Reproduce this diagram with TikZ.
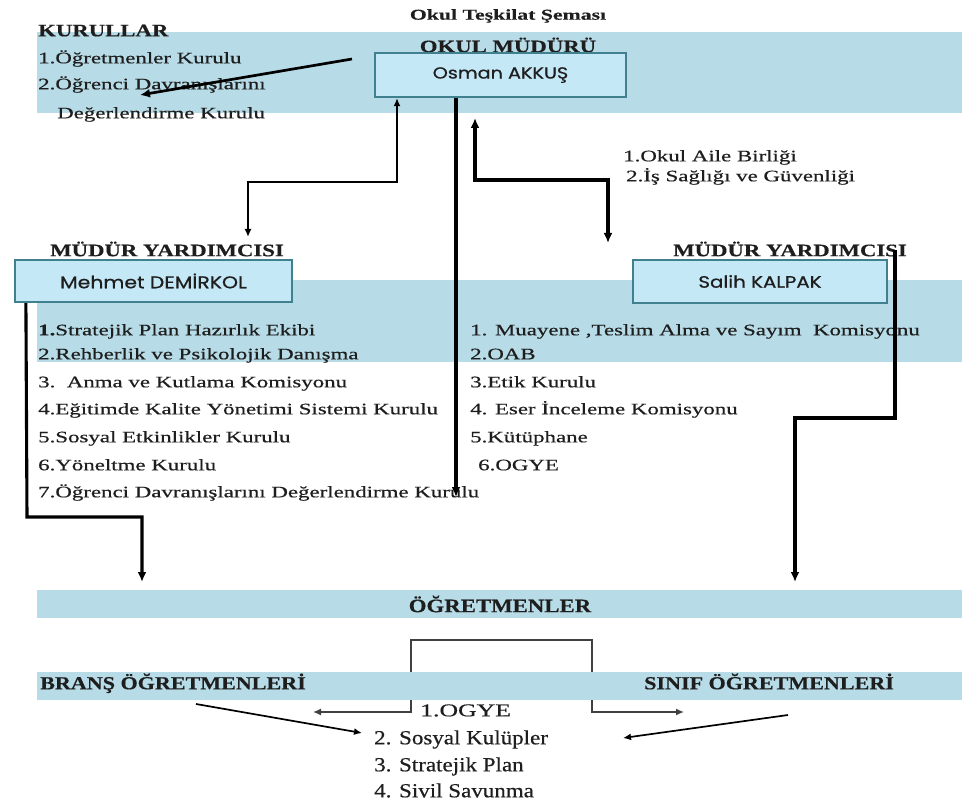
\documentclass[tikz,border=0pt]{standalone}
\usepackage{fontspec}
\setmainfont{Liberation Serif}
\newfontfamily\fTitle{Liberation Serif}[FakeStretch=1.45,FakeBold=0.3]
\newfontfamily\fHead{Liberation Serif}[FakeStretch=1.3,FakeBold=0.4]
\newfontfamily\fList{Liberation Serif}[FakeStretch=1.43,FakeBold=0.5]
\newfontfamily\fLow{Liberation Serif}[FakeStretch=1.2,FakeBold=0.4]
\newfontfamily\fBot{Liberation Serif}[FakeStretch=1.15,FakeBold=0.4]
\newfontfamily\fBox{Poppins}[FakeStretch=1.2,FakeBold=0.8]
\usetikzlibrary{arrows.meta}
\definecolor{bandc}{HTML}{B7DCE7}
\definecolor{boxfill}{HTML}{C5E8F7}
\definecolor{boxline}{HTML}{41808F}
\definecolor{ink}{HTML}{1E1E1E}
\tikzset{
  pbox/.style={draw=boxline, line width=2.2pt, fill=boxfill, inner sep=0pt, text=ink,
    font=\fBox\fontsize{16}{19}\selectfont},
  lst/.style={anchor=mid west, inner sep=0pt, text=ink, font=\fList\fontsize{16}{19}\selectfont},
  head/.style={inner sep=0pt, text=ink, font=\fHead\bfseries\fontsize{17.5}{20}\selectfont},
  low/.style={inner sep=0pt, text=ink, font=\fLow\bfseries\fontsize{18.4}{21}\selectfont},
  bot/.style={anchor=mid west, inner sep=0pt, text=ink, font=\fBot\fontsize{20}{23}\selectfont},
  thk/.style={line width=3.1pt, -{Latex[length=10pt,width=9pt]}},
  thkdbl/.style={line width=3.1pt, {Latex[length=10pt,width=9pt]}-{Latex[length=10pt,width=9pt]}},
  thn/.style={line width=1.7pt, -{Latex[length=8pt,width=7pt]}},
  thndbl/.style={line width=1.8pt, {Latex[length=8pt,width=7pt]}-{Latex[length=8pt,width=7pt]}},
  brk/.style={line width=1.5pt, draw=black!75, {Latex[length=8pt,width=7pt]}-{Latex[length=8pt,width=7pt]}},
}
\begin{document}
\begin{tikzpicture}[x=1pt,y=-1pt]
\useasboundingbox[fill=white] (0,0) rectangle (962,805);
% bands
\fill[bandc] (37,32) rectangle (962,113);
\fill[bandc] (37,280) rectangle (962,362);
\fill[bandc] (37,590) rectangle (962,618);
% bracket
\draw[brk] (313,712) -- (411,712) -- (411,640) -- (592,640) -- (592,712) -- (684,712);
\fill[bandc] (37,672) rectangle (962,700);

% title and headings
\node[inner sep=0pt, text=ink, font=\fTitle\bfseries\fontsize{15}{18}\selectfont] (title) at (508,16) {Okul Teşkilat Şeması};
\node[head, anchor=mid west] (kurullar) at (38,34) {KURULLAR};
\node[head] (okm) at (508,45) {OKUL MÜDÜRÜ};
\node[lst] (k1) at (38,61) {1.Öğretmenler Kurulu};
\node[lst] (k2) at (38,87) {2.Öğrenci Davranışlarını};
\node[lst] (k3) at (57,116) {Değerlendirme Kurulu};

\node[lst] (o1) at (623,159) {1.Okul Aile Birliği};
\node[lst] (o2) at (626,179) {2.İş Sağlığı ve Güvenliği};

\node[head] (my1) at (167,249) {MÜDÜR YARDIMCISI};
\node[head] (my2) at (790,249) {MÜDÜR YARDIMCISI};

% left list
\node[lst] (l1) at (38,333) {\textbf{1.}Stratejik Plan Hazırlık Ekibi};
\node[lst] (l2) at (38,357) {2.Rehberlik ve Psikolojik Danışma};
\node[lst] (l3) at (38,385) {3.\ \ Anma ve Kutlama Komisyonu};
\node[lst] (l4) at (38,412) {4.Eğitimde Kalite Yönetimi Sistemi Kurulu};
\node[lst] (l5) at (38,440) {5.Sosyal Etkinlikler Kurulu};
\node[lst] (l6) at (38,468) {6.Yöneltme Kurulu};
\node[lst] (l7) at (38,495) {7.Öğrenci Davranışlarını Değerlendirme Kurulu};
% right list
\node[lst] (r1) at (470,333) {1. Muayene ,Teslim Alma ve Sayım\ \ Komisyonu};
\node[lst] (r2) at (470,357) {2.OAB};
\node[lst] (r3) at (470,385) {3.Etik Kurulu};
\node[lst] (r4) at (470,412) {4. Eser İnceleme Komisyonu};
\node[lst] (r5) at (470,440) {5.Kütüphane};
\node[lst] (r6) at (478,468) {6.OGYE};

% bottom
\node[inner sep=0pt, text=ink, font=\fLow\bfseries\fontsize{19}{22}\selectfont] (ogr) at (500,604) {ÖĞRETMENLER};
\node[low, anchor=mid west] (brans) at (40,687) {BRANŞ ÖĞRETMENLERİ};
\node[low, anchor=mid west] (sinif) at (644,687) {SINIF ÖĞRETMENLERİ};
\node[lst, font=\fList\fontsize{18}{21}\selectfont] (b1) at (420,714) {1.OGYE};
\node[bot] (b2) at (374,742) {2. Sosyal Kulüpler};
\node[bot] (b3) at (374,769) {3. Stratejik Plan};
\node[bot] (b4) at (374,795) {4. Sivil Savunma};

% boxes
\node[pbox, minimum width=251pt, minimum height=44pt] (osman) at (500.5,75) {Osman AKKUŞ};
\node[pbox, minimum width=277pt, minimum height=42pt] (mehmet) at (153.5,281) {\fontsize{17}{20}\selectfont Mehmet DEMİRKOL};
\node[pbox, minimum width=254pt, minimum height=43pt] (salih) at (760,281.5) {\fontsize{16.5}{20}\selectfont Salih KALPAK};

% connectors
\coordinate (ka) at (352,59);
\coordinate (kb) at (140,95);
\draw[thk, line width=2.7pt] (ka) -- (kb);

\draw[thndbl] ([xshift=-103.5pt]osman.south) -- (397,182) -- (248,182) -- (248,237);
\draw[thk] ([xshift=-44.5pt]osman.south) -- (456,497);
\draw[thkdbl] (475,118) -- (475,180) -- (608,180) -- (608,243);
\draw[thk] ([xshift=12pt]mehmet.south west) -- (27,517) -- (142,517) -- (142,582);
\draw[thk] (895,250) -- (895,418) -- (795,418) -- (795,582);

\draw[thn] (196,704) -- (362,733);
\draw[thn] (788,715) -- (623,738);
\end{tikzpicture}
\end{document}
